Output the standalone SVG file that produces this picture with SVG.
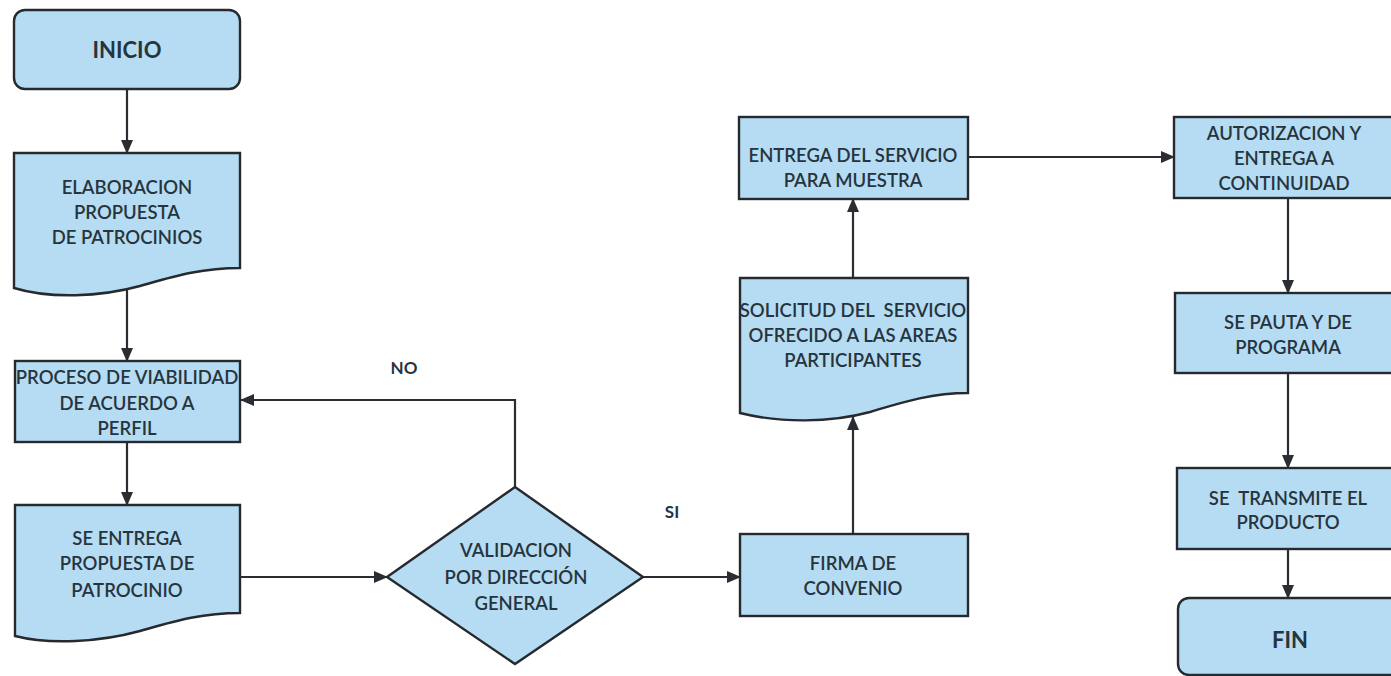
<svg xmlns="http://www.w3.org/2000/svg" width="1391" height="676" viewBox="0 0 1391 676">
<defs>
<marker id="ah" viewBox="0 0 14 12" refX="13" refY="6" markerWidth="14" markerHeight="12" markerUnits="userSpaceOnUse" orient="auto">
<path d="M0,0 L14,6 L0,12 Z" fill="#2a2e33"/>
</marker>
<style>
.n{fill:#b5dcf2;stroke:#26292d;stroke-width:2.4}
.t{font-family:Lato,"Open Sans","Liberation Sans",sans-serif;font-size:18.5px;font-weight:600;fill:#27343e;text-anchor:middle;white-space:pre}
.b{font-family:Lato,"Open Sans","Liberation Sans",sans-serif;font-size:22px;font-weight:700;fill:#27343e;text-anchor:middle}
.l{font-family:Lato,"Open Sans","Liberation Sans",sans-serif;font-size:17px;font-weight:700;fill:#27343e;text-anchor:middle}
.c{fill:none;stroke:#2a2e33;stroke-width:2.2;marker-end:url(#ah)}
</style>
</defs>
<rect width="1391" height="676" fill="#ffffff"/>
<g id="connectors">
<path class="c" d="M127,89 V153"/>
<path class="c" d="M127,290 V361"/>
<path class="c" d="M127,442 V505"/>
<path class="c" d="M240,577 H387"/>
<path class="c" d="M515,487 V400 H241"/>
<path class="c" d="M643,577 H740"/>
<path class="c" d="M853,533 V417"/>
<path class="c" d="M853,278 V199"/>
<path class="c" d="M968,157 H1174"/>
<path class="c" d="M1288,198 V293"/>
<path class="c" d="M1288,373 V468"/>
<path class="c" d="M1288,549 V598"/>
</g>
<g id="inicio">
<rect class="n" x="14" y="10" width="226" height="79" rx="11"/>
<text class="b" x="127" y="58">INICIO</text>
</g>
<g id="elaboracion">
<path class="n" d="M14,153 H240 V268 C200,268 172,277 140,286 C100,297 50,299 14,288 Z"/>
<text class="t" x="127" y="194">ELABORACION</text>
<text class="t" x="127" y="219">PROPUESTA</text>
<text class="t" x="127" y="244">DE PATROCINIOS</text>
</g>
<g id="proceso">
<rect class="n" x="15" y="361" width="225" height="81"/>
<text class="t" x="127" y="384">PROCESO DE VIABILIDAD</text>
<text class="t" x="127" y="410">DE ACUERDO A</text>
<text class="t" x="127" y="435">PERFIL</text>
</g>
<g id="se-entrega">
<path class="n" d="M15,505 H240 V613 C200,613 172,622 140,631 C100,642 50,645 15,636 Z"/>
<text class="t" x="127" y="545">SE ENTREGA</text>
<text class="t" x="127" y="570">PROPUESTA DE</text>
<text class="t" x="127" y="597">PATROCINIO</text>
</g>
<g id="validacion">
<path class="n" d="M515,487 L643,577 L515,664 L387,577 Z"/>
<text class="t" x="516" y="557">VALIDACION</text>
<text class="t" x="516" y="584">POR DIRECCIÓN</text>
<text class="t" x="516" y="610">GENERAL</text>
</g>
<text class="l" x="404" y="374">NO</text>
<text class="l" x="672" y="518">SI</text>
<g id="firma">
<rect class="n" x="740" y="534" width="228" height="82"/>
<text class="t" x="853" y="570">FIRMA DE</text>
<text class="t" x="853" y="595">CONVENIO</text>
</g>
<g id="solicitud">
<path class="n" d="M740,278 H968 V393 C930,393 900,403 870,412 C830,423 780,423 740,413 Z"/>
<text class="t" x="853" y="317">SOLICITUD DEL  SERVICIO</text>
<text class="t" x="853" y="342">OFRECIDO A LAS AREAS</text>
<text class="t" x="853" y="367">PARTICIPANTES</text>
</g>
<g id="entrega">
<rect class="n" x="739" y="117" width="229" height="82"/>
<text class="t" x="853" y="162">ENTREGA DEL SERVICIO</text>
<text class="t" x="853" y="187">PARA MUESTRA</text>
</g>
<g id="autorizacion">
<rect class="n" x="1174" y="117" width="230" height="81"/>
<text class="t" x="1284" y="140">AUTORIZACION Y</text>
<text class="t" x="1284" y="165">ENTREGA A</text>
<text class="t" x="1284" y="190">CONTINUIDAD</text>
</g>
<g id="pauta">
<rect class="n" x="1175" y="293" width="230" height="80"/>
<text class="t" x="1288" y="329">SE PAUTA Y DE</text>
<text class="t" x="1288" y="354">PROGRAMA</text>
</g>
<g id="transmite">
<rect class="n" x="1177" y="468" width="230" height="81"/>
<text class="t" x="1288" y="505">SE  TRANSMITE EL</text>
<text class="t" x="1288" y="529">PRODUCTO</text>
</g>
<g id="fin">
<rect class="n" x="1178" y="598" width="230" height="77" rx="11"/>
<text class="b" x="1290" y="648">FIN</text>
</g>
</svg>
